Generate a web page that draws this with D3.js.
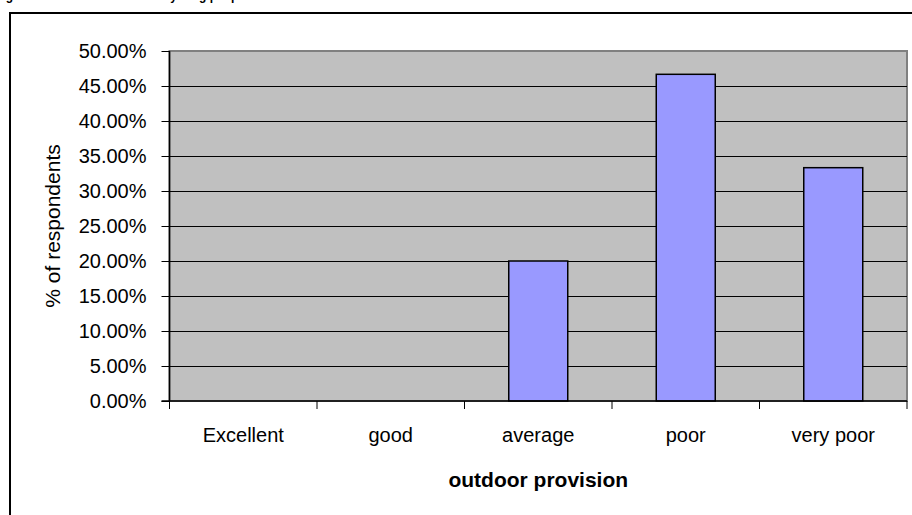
<!DOCTYPE html>
<html>
<head>
<meta charset="utf-8">
<script src="https://cdn.jsdelivr.net/npm/d3@7"></script>
<style>
  body { margin: 0; background: #fff; }
  svg { display: block; font-family: "Liberation Sans", Arial, sans-serif; }
</style>
</head>
<body>
<svg width="912" height="515"></svg>
<script>
// data
var categories = ['Excellent', 'good', 'average', 'poor', 'very poor'];
var values = [0, 0, 0.20, 0.4667, 0.3333];
var yTicks = [0, 0.05, 0.10, 0.15, 0.20, 0.25, 0.30, 0.35, 0.40, 0.45, 0.50];

var svg = d3.select('svg');

var plotLeft = 169.5, plotRight = 907, plotTop = 51, plotBottom = 401;

// cut-off title and chart frame
svg.append('text')
	.attr('x', -5)
	.attr('y', 0)
	.style('font-size', '12px')
	.style('font-weight', 'bold')
	.text('Figure 4: Outdoor facilities for young people');

svg.append('rect')
	.attr('x', 10)
	.attr('y', 13)
	.attr('width', 920)
	.attr('height', 520)
	.attr('fill', 'none')
	.attr('stroke', '#000')
	.attr('stroke-width', 2);

var x = d3.scaleBand().domain(categories).range([plotLeft, plotRight]).paddingInner(0).paddingOuter(0);
var y = d3.scaleLinear().domain([0, 0.5]).range([plotBottom, plotTop]);

// plot area
svg.append('rect')
	.attr('x', plotLeft)
	.attr('y', plotTop)
	.attr('width', plotRight - plotLeft)
	.attr('height', plotBottom - plotTop)
	.attr('fill', '#c0c0c0')
	.attr('stroke', '#808080')
	.attr('stroke-width', 2);

// gridlines
svg.append('g')
	.selectAll('line')
	.data(yTicks.filter((d) => d > 0 && d < 0.5))
	.enter()
	.append('line')
	.attr('x1', plotLeft)
	.attr('x2', plotRight)
	.attr('y1', (d) => Math.round(y(d)) + 0.5)
	.attr('y2', (d) => Math.round(y(d)) + 0.5)
	.attr('stroke', '#000')
	.attr('stroke-width', 1);

// bars
var bw = x.bandwidth() / 2.5;
svg.append('g')
	.selectAll('rect')
	.data(values.map((v, i) => ({ c: categories[i], v: v })).filter((d) => d.v > 0))
	.enter()
	.append('rect')
	.attr('x', (d) => x(d.c) + (x.bandwidth() - bw) / 2)
	.attr('y', (d) => y(d.v))
	.attr('width', bw)
	.attr('height', (d) => plotBottom - y(d.v))
	.attr('fill', '#9999ff')
	.attr('stroke', '#000')
	.attr('stroke-width', 1.5);

// y axis
var yAxis = svg.append('g')
	.attr('transform', 'translate(' + plotLeft + ',0)')
	.call(d3.axisLeft(y).tickValues(yTicks).tickSize(8).tickPadding(15).tickFormat(d3.format('.2%')));
yAxis.select('.domain').attr('stroke', '#000').attr('stroke-width', 1.5).attr('d', 'M0,' + plotTop + 'V' + plotBottom);
yAxis.selectAll('text')
	.style('font-family', '"Liberation Sans", Arial, sans-serif')
	.style('font-size', '20px')
	.attr('fill', '#000');

// x axis
var xAxis = svg.append('g')
	.attr('transform', 'translate(0,' + plotBottom + ')')
	.call(d3.axisBottom(x).tickSize(0).tickPadding(27));
xAxis.select('.domain').attr('stroke', '#000').attr('stroke-width', 1.5).attr('d', 'M' + (plotLeft - 8) + ',0H' + plotRight);
xAxis.selectAll('text')
	.style('font-family', '"Liberation Sans", Arial, sans-serif')
	.style('font-size', '20px')
	.attr('fill', '#000');
xAxis.selectAll('.sep')
	.data(categories.concat(['end']))
	.enter()
	.append('line')
	.attr('class', 'sep')
	.attr('x1', (d, i) => (i < categories.length ? x(d) : plotRight))
	.attr('x2', (d, i) => (i < categories.length ? x(d) : plotRight))
	.attr('y1', 0)
	.attr('y2', 8)
	.attr('stroke', '#000')
	.attr('stroke-width', 1);

// axis titles
svg.append('text')
	.attr('transform', 'translate(60,' + (plotTop + plotBottom) / 2 + ') rotate(-90)')
	.attr('text-anchor', 'middle')
	.style('font-size', '21px')
	.text('% of respondents');

svg.append('text')
	.attr('x', (plotLeft + plotRight) / 2)
	.attr('y', 487)
	.attr('text-anchor', 'middle')
	.style('font-size', '21px')
	.style('font-weight', 'bold')
	.text('outdoor provision');
</script>
</body>
</html>
